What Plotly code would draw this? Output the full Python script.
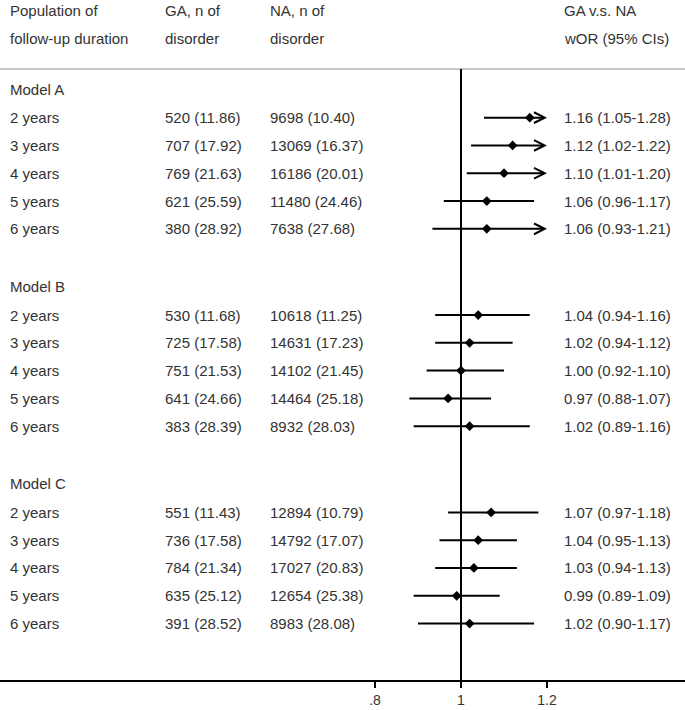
import plotly.graph_objects as go

# data
models = ["Model A", "Model B", "Model C"]
durations = ["2 years", "3 years", "4 years", "5 years", "6 years"]

ga_n = [[520, 707, 769, 621, 380],
        [530, 725, 751, 641, 383],
        [551, 736, 784, 635, 391]]
ga_pct = [[11.86, 17.92, 21.63, 25.59, 28.92],
          [11.68, 17.58, 21.53, 24.66, 28.39],
          [11.43, 17.58, 21.34, 25.12, 28.52]]
na_n = [[9698, 13069, 16186, 11480, 7638],
        [10618, 14631, 14102, 14464, 8932],
        [12894, 14792, 17027, 12654, 8983]]
na_pct = [[10.40, 16.37, 20.01, 24.46, 27.68],
          [11.25, 17.23, 21.45, 25.18, 28.03],
          [10.79, 17.07, 20.83, 25.38, 28.08]]
wor = [[1.16, 1.12, 1.10, 1.06, 1.06],
       [1.04, 1.02, 1.00, 0.97, 1.02],
       [1.07, 1.04, 1.03, 0.99, 1.02]]
ci_low = [[1.05, 1.02, 1.01, 0.96, 0.93],
          [0.94, 0.94, 0.92, 0.88, 0.89],
          [0.97, 0.95, 0.94, 0.89, 0.90]]
ci_high = [[1.28, 1.22, 1.20, 1.17, 1.21],
           [1.16, 1.12, 1.10, 1.07, 1.16],
           [1.18, 1.13, 1.13, 1.09, 1.17]]

header_left = ["Population of", "follow-up duration"]
header_ga = ["GA, n of", "disorder"]
header_na = ["NA, n of", "disorder"]
header_or = ["GA v.s. NA", "wOR (95% CIs)"]

x_max = 1.2  # CIs beyond this get an arrow
tick_vals = [0.8, 1, 1.2]
tick_text = [".8", "1", "1.2"]

# layout of rows (in row units, top = smaller)
W, H = 685, 710
row_px = 27.8
y0_px = 89.0          # pixel centre of "Model A"
group_step = 7.1
sub_off = 1.03
plot_bottom = 680
y_top = -y0_px / row_px
y_bot = (plot_bottom - y0_px) / row_px

px_per_unit = 430.0
one_px = 461.0
x_lo = 1 - one_px / px_per_unit
x_hi = 1 + (W - one_px) / px_per_unit

txt_color = "#333333"
font = dict(family="Liberation Sans, Arial, sans-serif", size=15, color=txt_color)
col_x = [8, 163, 268, 562]

fig = go.Figure()
annotations = []

def add_text(px, y, s):
    annotations.append(dict(x=px / W, xref="paper", y=y, yref="y", text=s,
                            showarrow=False, xanchor="left", yanchor="middle",
                            font=font))

# headers
for i in range(2):
    yh = (10 + 28 * i - y0_px) / row_px
    add_text(col_x[0], yh, header_left[i])
    add_text(col_x[1], yh, header_ga[i])
    add_text(col_x[2], yh, header_na[i])
    add_text(col_x[3], yh, header_or[i])

line_x, line_y = [], []
mk_x, mk_y = [], []
for g, m in enumerate(models):
    yg = g * group_step
    add_text(col_x[0], yg, m)
    for k, d in enumerate(durations):
        y = yg + sub_off + k
        add_text(col_x[0], y, d)
        add_text(col_x[1], y, "%d (%.2f)" % (ga_n[g][k], ga_pct[g][k]))
        add_text(col_x[2], y, "%d (%.2f)" % (na_n[g][k], na_pct[g][k]))
        add_text(col_x[3], y, "%.2f (%.2f-%.2f)" % (wor[g][k], ci_low[g][k], ci_high[g][k]))
        lo, hi = ci_low[g][k], ci_high[g][k]
        if hi >= x_max:
            annotations.append(dict(x=x_max, y=y, xref="x", yref="y",
                                    ax=lo, ay=y, axref="x", ayref="y",
                                    text="", showarrow=True, arrowhead=5,
                                    arrowsize=1.05, arrowwidth=2, arrowcolor="black"))
        else:
            line_x += [lo, hi, None]
            line_y += [y, y, None]
        mk_x.append(wor[g][k])
        mk_y.append(y)

fig.add_trace(go.Scatter(x=line_x, y=line_y, mode="lines",
                         line=dict(color="black", width=2), hoverinfo="skip"))
fig.add_trace(go.Scatter(x=mk_x, y=mk_y, mode="markers",
                         marker=dict(symbol="diamond", size=7.5, color="black")))

shapes = [
    dict(type="line", xref="paper", yref="y", x0=0, x1=1,
         y0=(69 - y0_px) / row_px, y1=(69 - y0_px) / row_px,
         line=dict(color="#c8c8c8", width=2)),
    dict(type="line", xref="x", yref="y", x0=1, x1=1,
         y0=(69 - y0_px) / row_px, y1=y_bot,
         line=dict(color="black", width=2)),
]

fig.update_layout(
    width=W, height=H,
    margin=dict(l=0, r=0, t=0, b=H - plot_bottom),
    paper_bgcolor="white", plot_bgcolor="white",
    showlegend=False,
    annotations=annotations,
    shapes=shapes,
    xaxis=dict(range=[x_lo, x_hi], tickvals=tick_vals, ticktext=tick_text,
               showgrid=False, zeroline=False, showline=True,
               linecolor="black", linewidth=2, ticks="outside",
               ticklen=6, tickwidth=2, tickcolor="black",
               tickfont=dict(family="Liberation Sans, Arial, sans-serif",
                             size=14, color=txt_color)),
    yaxis=dict(range=[y_bot, y_top], visible=False),
)

# page body has a default 8px margin; drop it so the figure fills the window
fig.write_html("out.html", config={"displayModeBar": False},
               post_script="document.body.style.margin='0px';")
